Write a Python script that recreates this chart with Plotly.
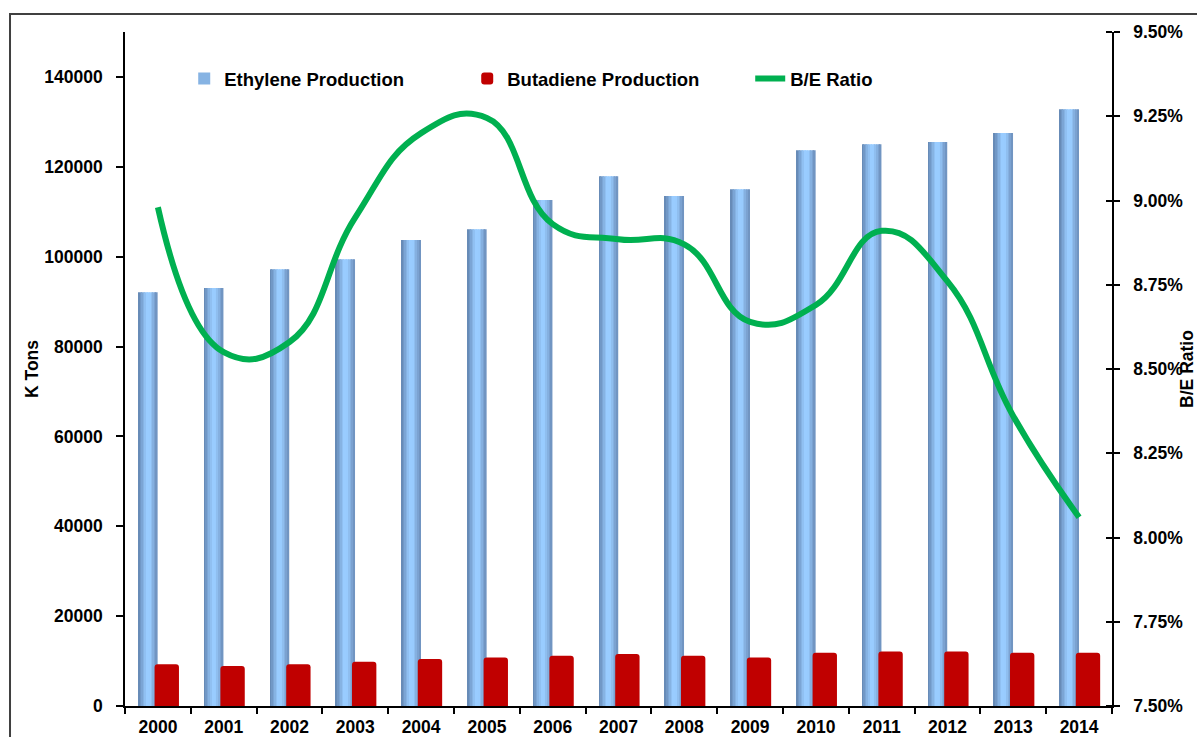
import plotly.graph_objects as go

# ---- data ----
years = [str(y) for y in range(2000, 2015)]
ethylene = [92100, 93000, 97200, 99400, 103700, 106100, 112600, 117900,
            113500, 115000, 123700, 125000, 125500, 127500, 132800]
butadiene = [9300, 8900, 9300, 9850, 10450, 10800, 11200, 11550,
             11200, 10800, 11850, 12150, 12150, 11850, 11850]
be_ratio_pct = [8.98, 8.55, 8.58, 8.95, 9.20, 9.245, 8.93, 8.885,
                8.87, 8.64, 8.69, 8.91, 8.76, 8.36, 8.06]
left_ticks = [0, 20000, 40000, 60000, 80000, 100000, 120000, 140000]
right_ticks = [0.075, 0.0775, 0.08, 0.0825, 0.085, 0.0875, 0.09, 0.0925, 0.095]

FONT = "Liberation Sans"
fs = 17.5

fig = go.Figure()

# Ethylene bars drawn as thin stripes to imitate the horizontal gradient
n_str = 12
blue_left = -0.296
blue_w = 0.29
sw = blue_w / n_str
dark = (98, 132, 176)
light = (153, 204, 255)
right_dark = (108, 142, 186)


def mix(a, b, f):
    return tuple(int(round(a[k] + (b[k] - a[k]) * f)) for k in range(3))


def stripe_color(t):
    if t < 0.45:
        c = mix(dark, light, t / 0.45)
    elif t < 0.62:
        c = light
    else:
        c = mix(light, right_dark, (t - 0.62) / 0.38)
    return "rgb(%d,%d,%d)" % c


for i in range(n_str):
    t = (i + 0.5) / n_str
    fig.add_trace(go.Bar(
        x=years, y=ethylene,
        offset=blue_left + i * sw, width=sw * 1.08,
        marker=dict(color=stripe_color(t), line=dict(width=0)),
        name="Ethylene Production", legendgroup="eth",
        showlegend=(i == 3),
        hovertemplate="%{x}: %{y}<extra>Ethylene</extra>",
    ))

fig.add_trace(go.Bar(
    x=years, y=butadiene, offset=-0.05, width=0.37,
    marker=dict(color="#C00000", line=dict(width=0), cornerradius=3),
    name="Butadiene Production",
))

fig.add_trace(go.Scatter(
    x=years, y=[v / 100 for v in be_ratio_pct], yaxis="y2",
    mode="lines", name="B/E Ratio",
    line=dict(color="#00B050", width=6, shape="spline", smoothing=1.3),
))

axis_font = dict(family=FONT, size=fs, color="black", weight="bold")

fig.update_layout(
    width=1197, height=737,
    margin=dict(l=125, r=85, t=32, b=31, pad=0),
    paper_bgcolor="white", plot_bgcolor="white",
    barmode="overlay",
    font=dict(family=FONT, color="black"),
    xaxis=dict(
        type="category", range=[-0.5, 14.5],
        showline=True, linecolor="black", linewidth=1.5,
        ticks="outside", tickson="boundaries", ticklen=6,
        tickcolor="black", tickwidth=1.5,
        tickfont=axis_font, ticklabelstandoff=4,
        showgrid=False, zeroline=False, automargin=False,
    ),
    yaxis=dict(
        range=[0, 150000], tickmode="array", tickvals=left_ticks,
        tickformat="d",
        showline=True, linecolor="black", linewidth=1.5,
        ticks="outside", ticklen=7, tickcolor="black", tickwidth=1.5,
        tickfont=axis_font, ticklabelstandoff=10,
        showgrid=False, zeroline=False,
        title=dict(text="K Tons", font=axis_font, standoff=1),
        automargin=False,
    ),
    yaxis2=dict(
        overlaying="y", side="right",
        range=[0.075, 0.095], tickmode="array", tickvals=right_ticks,
        tickformat=".2%",
        showline=True, linecolor="black", linewidth=1.5,
        ticks="outside", ticklen=6, tickcolor="black", tickwidth=1.5,
        minor=dict(ticks="inside", ticklen=6, tickcolor="black", tickwidth=1.5,
                   tickmode="array",
                   tickvals=[v + 1e-9 for v in right_ticks]),
        tickfont=axis_font, ticklabelstandoff=10,
        showgrid=False, zeroline=False,
        title=dict(text="B/E Ratio", font=axis_font, standoff=16),
        automargin=False,
    ),
    legend=dict(
        orientation="h", x=0.06, y=0.9303, xanchor="left", yanchor="middle",
        entrywidth=238, entrywidthmode="pixels",
        font=dict(family=FONT, size=18.5, color="black", weight="bold"),
        bgcolor="rgba(0,0,0,0)", borderwidth=0,
        traceorder="normal",
    ),
    shapes=[dict(
        type="rect", xref="paper", yref="paper",
        x0=-0.1165, x1=1.5, y0=-0.5, y1=1.0267,
        line=dict(color="#404040", width=2), fillcolor="rgba(0,0,0,0)",
        layer="above",
    )],
)

fig.write_html("out.html", config={"displayModeBar": False},
               post_script="document.body.style.margin='0';")
